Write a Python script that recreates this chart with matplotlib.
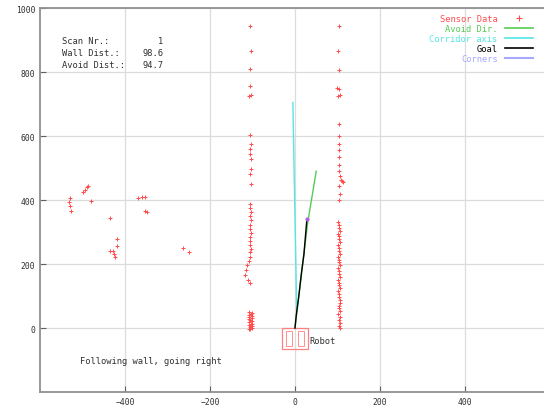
import numpy as np
import matplotlib.pyplot as plt
from matplotlib.lines import Line2D
from matplotlib.patches import Rectangle

# sensor data, left wall
left_wall_x = [-105, -104, -106, -105, -108, -103, -105, -104, -106, -105, -104, -103, -105,
               -104, -105, -106, -104, -105, -104, -105, -106, -104, -105, -105, -106, -104,
               -105, -107, -109, -112, -115, -118, -110, -106,
               -108, -102, -108, -102, -108, -102, -107, -101, -108, -103, -108, -102,
               -107, -102, -108, -103, -108, -102, -106]
left_wall_y = [944, 866, 809, 756, 725, 728, 603, 575, 559, 544, 528, 497, 481,
               450, 387, 374, 362, 349, 336, 323, 310, 298, 285, 272, 260, 248,
               236, 222, 210, 196, 180, 165, 150, 140,
               50, 47, 42, 38, 34, 30, 26, 22, 18, 14, 10, 6,
               3, 0, -2, 44, 28, 12, -4]

# sensor data, right wall
right_wall_x = [103, 102, 103, 98, 104, 102, 106, 103, 104, 103, 104, 103, 104,
                103, 105, 108, 110, 112, 104, 105, 104,
                102, 104, 103, 105, 102, 104, 103, 105, 102, 104, 103, 105, 102,
                104, 103, 105, 102, 104, 103, 105, 102, 104, 103, 105, 102, 104,
                103, 105, 106, 104, 103, 107, 102, 105, 104, 106, 103, 105]
right_wall_y = [944, 866, 806, 750, 748, 725, 728, 637, 600, 575, 555, 535, 510,
                490, 475, 462, 458, 455, 444, 420, 400,
                331, 322, 313, 304, 295, 286, 277, 268, 259, 250, 241, 232, 223,
                214, 205, 196, 187, 178, 169, 160, 151, 142, 133, 124, 115, 106,
                97, 88, 79, 70, 61, 52, 43, 34, 25, 16, 7, 0]

# sensor data, far clusters
far_x = [-529, -532, -527, -530, -499, -489, -487, -480, -435, -419, -419, -428,
         -424, -435, -426, -369, -361, -353, -353, -348, -264, -249, -495]
far_y = [406, 394, 366, 380, 425, 441, 444, 397, 344, 278, 256, 241,
         222, 241, 230, 406, 408, 409, 366, 363, 250, 238, 432]

avoid_x = [0, 10, 20, 30, 40, 50]
avoid_y = [0, 110, 220, 330, 410, 490]
corridor_x = [4, -5]
corridor_y = [60, 705]
goal_x = [0, 3, 9, 15, 21, 28]
goal_y = [0, 40, 100, 170, 230, 340]
corner_x = [28]
corner_y = [340]

scan_nr = 1
wall_dist = 98.6
avoid_dist = 94.7

mono = 'DejaVu Sans Mono'
fs = 6.3


def main():
    fig = plt.figure(figsize=(5.44, 4.14), dpi=100)
    ax = fig.add_axes([0.0735, 0.0507, 0.9375, 0.9275])

    red = '#ff4d4d'
    green = '#55cc55'
    cyan = '#55e5e5'
    blue = '#a8a8ff'

    for v in range(-400, 601, 200):
        ax.axvline(v, color='#dcdcdc', lw=0.9, zorder=0)
    for v in range(-200, 1001, 200):
        ax.axhline(v, color='#dcdcdc', lw=0.9, zorder=0)

    ax.plot(left_wall_x + right_wall_x + far_x, left_wall_y + right_wall_y + far_y,
            '+', color=red, ms=3, mew=0.7, ls='none')
    ax.plot(corridor_x, corridor_y, color=cyan, lw=1)
    ax.plot(avoid_x, avoid_y, color=green, lw=1)
    ax.plot(goal_x, goal_y, color='black', lw=1)
    ax.plot(corner_x, corner_y, 'o', color='#b060e0', ms=2)

    # robot
    ax.add_patch(Rectangle((-30, -65), 60, 65, fill=False, ec='#ff8080', lw=0.9))
    ax.add_patch(Rectangle((-22, -55), 14, 45, fill=False, ec='#ff9090', lw=0.7))
    ax.add_patch(Rectangle((8, -55), 14, 45, fill=False, ec='#ff9090', lw=0.7))
    ax.text(35, -40, 'Robot', fontsize=fs, family=mono, va='center', color='#303030')

    ax.text(-548, 897, 'Scan Nr.:', fontsize=fs, family=mono, va='center', color='#303030')
    ax.text(-548, 860, 'Wall Dist.:', fontsize=fs, family=mono, va='center', color='#303030')
    ax.text(-548, 823, 'Avoid Dist.:', fontsize=fs, family=mono, va='center', color='#303030')
    ax.text(-310, 897, f'{scan_nr}', fontsize=fs, family=mono, va='center', ha='right', color='#303030')
    ax.text(-310, 860, f'{wall_dist}', fontsize=fs, family=mono, va='center', ha='right', color='#303030')
    ax.text(-310, 823, f'{avoid_dist}', fontsize=fs, family=mono, va='center', ha='right', color='#303030')

    ax.text(-505, -103, 'Following wall, going right', fontsize=fs, family=mono,
            va='center', color='#303030')

    handles = [Line2D([], [], color=red, marker='+', ls='none', ms=4, mew=0.8),
               Line2D([], [], color=green, lw=1.2),
               Line2D([], [], color=cyan, lw=1.2),
               Line2D([], [], color='black', lw=1.2),
               Line2D([], [], color=blue, lw=1.5)]
    labels = ['Sensor Data', 'Avoid Dir.', 'Corridor axis', 'Goal', 'Corners']
    leg = ax.legend(handles, labels, loc='upper right', bbox_to_anchor=(0.978, 1.0),
                    frameon=False, markerfirst=False, prop={'family': mono, 'size': fs},
                    handlelength=3.2, handletextpad=0.8, labelspacing=0.1, borderpad=0.2)
    for t, c in zip(leg.get_texts(), [red, green, cyan, 'black', blue]):
        t.set_color(c)

    ax.set_xlim(-600, 600)
    ax.set_ylim(-200, 1000)
    ax.set_xticks(range(-400, 401, 200))
    ax.set_yticks(range(0, 1001, 200))
    ax.tick_params(direction='in', length=4, width=0.8, color='#606060',
                   labelsize=fs - 0.5, labelcolor='#303030')
    for lab in ax.get_xticklabels() + ax.get_yticklabels():
        lab.set_family(mono)
    for s in ax.spines.values():
        s.set_color('#909090')
        s.set_linewidth(1.3)

    fig.savefig('out.png', dpi=100)


if __name__ == "__main__":
    main()
